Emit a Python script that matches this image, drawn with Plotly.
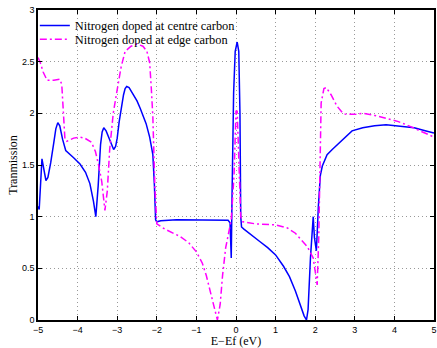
import plotly.graph_objects as go

centre_x = [-5, -4.97, -4.9, -4.85, -4.8, -4.75, -4.68, -4.6, -4.55, -4.5, -4.45, -4.38, -4.3, -4.1, -3.94, -3.8, -3.69, -3.6, -3.54, -3.48, -3.42, -3.38, -3.34, -3.28, -3.2, -3.14, -3.09, -3.04, -3.0, -2.95, -2.9, -2.84, -2.8, -2.76, -2.7, -2.6, -2.5, -2.42, -2.35, -2.27, -2.18, -2.13, -2.1, -2.06, -2.03, -2.0, -1.9, -1.5, -1.0, -0.5, -0.2, -0.15, -0.12, -0.1, -0.06, -0.02, 0.03, 0.07, 0.1, 0.12, 0.14, 0.2, 0.42, 0.6, 0.8, 1.0, 1.2, 1.35, 1.5, 1.6, 1.65, 1.72, 1.78, 1.82, 1.88, 1.92, 1.95, 1.98, 2.03, 2.08, 2.13, 2.18, 2.24, 2.3, 2.43, 2.6, 2.8, 2.93, 3.2, 3.5, 3.79, 4.1, 4.5, 4.8, 5.0]
centre_y = [1.1, 1.07, 1.56, 1.45, 1.35, 1.38, 1.52, 1.72, 1.85, 1.91, 1.88, 1.75, 1.64, 1.57, 1.51, 1.43, 1.32, 1.15, 1.0, 1.3, 1.7, 1.82, 1.86, 1.83, 1.76, 1.69, 1.65, 1.68, 1.76, 1.92, 2.06, 2.18, 2.24, 2.26, 2.25, 2.19, 2.12, 2.05, 1.98, 1.9, 1.77, 1.68, 1.6, 1.3, 0.97, 0.95, 0.96, 0.97, 0.97, 0.97, 0.965, 0.94, 0.6, 1.2, 2.2, 2.6, 2.69, 2.6, 2.0, 1.0, 0.9, 0.88, 0.81, 0.76, 0.70, 0.63, 0.52, 0.42, 0.28, 0.17, 0.11, 0.04, 0.0, 0.1, 0.6, 0.85, 1.0, 0.8, 0.67, 1.1, 1.4, 1.49, 1.55, 1.6, 1.65, 1.71, 1.78, 1.83, 1.86, 1.88, 1.89, 1.88, 1.86, 1.83, 1.81]

edge_x = [-5, -4.95, -4.87, -4.77, -4.6, -4.45, -4.4, -4.36, -4.32, -4.27, -4.1, -3.95, -3.82, -3.65, -3.55, -3.47, -3.39, -3.31, -3.25, -3.19, -3.1, -3.0, -2.9, -2.8, -2.65, -2.5, -2.35, -2.25, -2.18, -2.14, -2.1, -2.05, -2.0, -1.8, -1.42, -1.2, -1.0, -0.85, -0.75, -0.6, -0.5, -0.47, -0.4, -0.34, -0.26, -0.2, -0.12, -0.05, 0.0, 0.03, 0.07, 0.12, 0.17, 0.5, 1.0, 1.3, 1.5, 1.7, 1.8, 1.95, 2.0, 2.05, 2.09, 2.12, 2.15, 2.22, 2.28, 2.4, 2.55, 2.7, 2.78, 3.0, 3.2, 3.5, 3.87, 4.1, 4.3, 4.6, 4.8, 5.0]
edge_y = [2.54, 2.5, 2.4, 2.32, 2.32, 2.33, 2.28, 2.0, 1.75, 1.73, 1.76, 1.77, 1.76, 1.72, 1.63, 1.5, 1.34, 1.06, 1.25, 1.65, 2.0, 2.23, 2.45, 2.6, 2.65, 2.67, 2.65, 2.6, 2.49, 2.25, 1.97, 1.3, 0.93, 0.88, 0.81, 0.75, 0.66, 0.55, 0.43, 0.2, 0.05, 0.0, 0.15, 0.43, 0.7, 0.82, 0.97, 1.4, 2.02, 2.02, 1.5, 1.0, 0.95, 0.93, 0.92, 0.89, 0.84, 0.76, 0.71, 0.6, 0.45, 0.34, 0.8, 1.5, 2.1, 2.24, 2.25, 2.18, 2.07, 2.0, 1.99, 1.99, 2.0, 1.98, 1.94, 1.92, 1.89, 1.84, 1.8, 1.77]

x_ticks = [-5, -4, -3, -2, -1, 0, 1, 2, 3, 4, 5]
y_ticks = [0, 0.5, 1, 1.5, 2, 2.5, 3]

fig = go.Figure()
fig.add_trace(go.Scatter(x=centre_x, y=centre_y, mode="lines",
                         name="Nitrogen doped at centre carbon", legend="legend",
                         line=dict(color="#0000ff", width=1.5)))
fig.add_trace(go.Scatter(x=edge_x, y=edge_y, mode="lines",
                         name="Nitrogen doped at edge carbon", legend="legend2",
                         line=dict(color="#ff00ff", width=1.5, dash="7px,3px,2px,3px")))

axis_common = dict(showline=True, linecolor="black", linewidth=1.5, mirror="ticks",
                   ticks="inside", ticklen=4, tickcolor="black",
                   showgrid=True, gridcolor="#999999", griddash="1px,3px", gridwidth=1,
                   zeroline=False,
                   tickfont=dict(family="Liberation Sans", size=9, color="black"))

legend_font = dict(family="Liberation Serif, Times New Roman, serif", size=12.4, color="black")
legend_common = dict(x=-0.008, xanchor="left", yanchor="top",
                     bgcolor="rgba(255,255,255,0)", borderwidth=0,
                     font=legend_font, itemwidth=30)

fig.update_layout(
    width=437, height=348,
    margin=dict(l=38, r=1, t=10, b=26),
    plot_bgcolor="white", paper_bgcolor="white",
    showlegend=True,
    legend=dict(y=0.997, **legend_common),
    legend2=dict(y=0.953, **legend_common),
    xaxis=dict(range=[-5, 5], tickvals=x_ticks,
               title=dict(text="E−Ef (eV)", standoff=4,
                          font=dict(family="Liberation Serif, serif", size=12, color="black")),
               **axis_common),
    yaxis=dict(range=[0, 3], tickvals=y_ticks,
               title=dict(text="Tranmission", standoff=2,
                          font=dict(family="Liberation Serif, serif", size=12, color="black")),
               **axis_common),
)

fig.write_html("out.html")
